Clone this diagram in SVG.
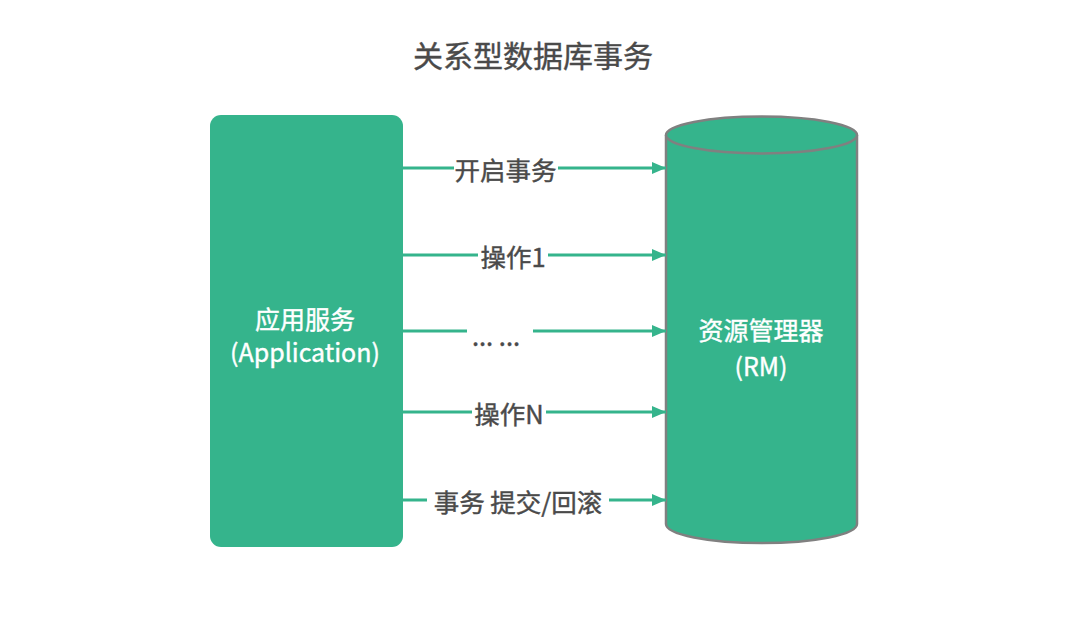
<svg xmlns="http://www.w3.org/2000/svg" width="1080" height="629" viewBox="0 0 1080 629">
<defs>
<marker id="arr" markerWidth="14" markerHeight="12" refX="14" refY="6" orient="auto" markerUnits="userSpaceOnUse">
<path d="M0,0 L14,6 L0,12 Z" fill="#35b48c"/>
</marker>
<style>
text{font-family:"Noto Sans CJK SC","Liberation Sans",sans-serif;font-weight:normal;}
.lbl{font-size:25.5px;fill:#4a4a4a;stroke:#4a4a4a;stroke-width:0.4;text-anchor:middle;dominant-baseline:central;}
.wt{font-size:25px;fill:#ffffff;stroke:#ffffff;stroke-width:0.4;text-anchor:middle;dominant-baseline:central;}
.ln{stroke:#35b48c;stroke-width:2.8;fill:none;marker-end:url(#arr);}
</style>
</defs>
<rect width="1080" height="629" fill="#ffffff"/>
<text x="533" y="54" style="font-size:30px;fill:#4a4a4a;stroke:#4a4a4a;stroke-width:0.4;text-anchor:middle;dominant-baseline:central;">关系型数据库事务</text>
<g id="app">
<rect x="210" y="115" width="193" height="432" rx="11" fill="#35b48c"/>
<text class="wt" x="305" y="318">应用服务</text>
<text class="wt" x="305" y="351">(Application)</text>
</g>
<g id="rm">
<path d="M666,135 L666,524 A95.5,19 0 0 0 857,524 L857,135" fill="#35b48c" stroke="#808080" stroke-width="2.5"/>
<ellipse cx="761.5" cy="135" rx="95.5" ry="18.5" fill="#35b48c" stroke="#808080" stroke-width="2.5"/>
<text class="wt" x="761" y="329">资源管理器</text>
<text class="wt" x="761" y="365">(RM)</text>
</g>
<g id="connectors">
<line class="ln" x1="403" y1="168" x2="666" y2="168"/>
<line class="ln" x1="403" y1="255" x2="666" y2="255"/>
<line class="ln" x1="403" y1="331" x2="666" y2="331"/>
<line class="ln" x1="403" y1="412" x2="666" y2="412"/>
<line class="ln" x1="403" y1="500" x2="666" y2="500"/>
<rect x="454" y="155" width="104" height="26" fill="#ffffff"/>
<text class="lbl" x="505.5" y="168">开启事务</text>
<rect x="478" y="242" width="70" height="26" fill="#ffffff"/>
<text class="lbl" x="513" y="255">操作1</text>
<rect x="467" y="318" width="66" height="26" fill="#ffffff"/>
<text class="lbl" x="496" y="334">... ...</text>
<rect x="472" y="399" width="74" height="26" fill="#ffffff"/>
<text class="lbl" x="509" y="412">操作N</text>
<rect x="427" y="487" width="182" height="26" fill="#ffffff"/>
<text class="lbl" x="518" y="500">事务 提交/回滚</text>
</g>
</svg>
